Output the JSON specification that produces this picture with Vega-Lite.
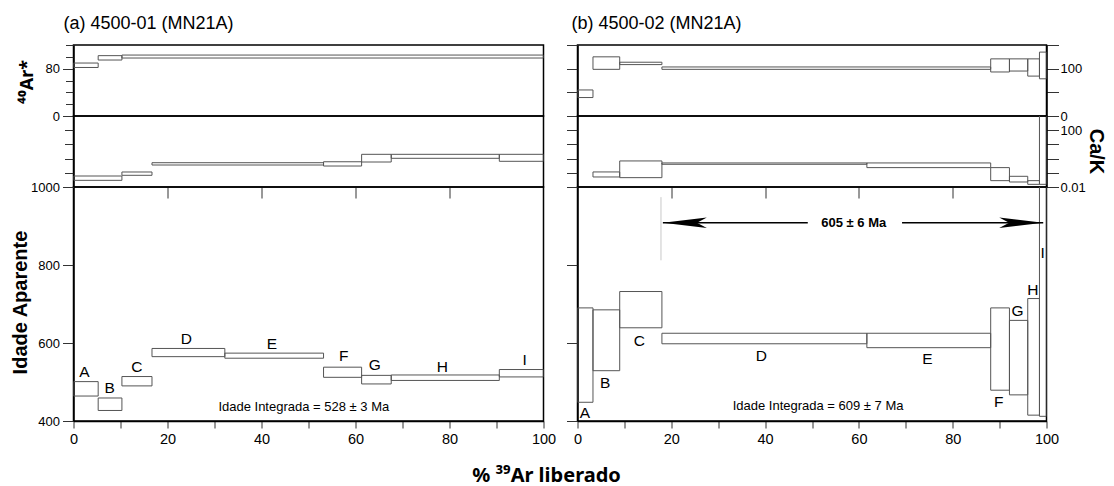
{
  "$schema": "https://vega.github.io/schema/vega-lite/v6.json",
  "background": "white",
  "padding": {"left": 8.5, "top": 14, "right": 0, "bottom": 0},
  "datasets": {
    "a_ar": [
      {"step": "A", "x1": 0, "x2": 5.25, "lo": 82, "hi": 89.5},
      {"step": "B", "x1": 5.25, "x2": 10.3, "lo": 94.6, "hi": 102},
      {"step": "C-I", "x1": 10.3, "x2": 100, "lo": 98, "hi": 103}
    ],
    "a_ck": [
      {"step": "A-B", "x1": 0, "x2": 10.3, "lo": 0.0295, "hi": 0.0595},
      {"step": "C", "x1": 10.3, "x2": 16.7, "lo": 0.0667, "hi": 0.114},
      {"step": "D-E", "x1": 16.7, "x2": 53.2, "lo": 0.354, "hi": 0.514},
      {"step": "F", "x1": 53.2, "x2": 61.3, "lo": 0.30, "hi": 0.60},
      {"step": "G", "x1": 61.3, "x2": 67.6, "lo": 0.576, "hi": 2.0},
      {"step": "H", "x1": 67.6, "x2": 90.6, "lo": 1.05, "hi": 2.0},
      {"step": "I", "x1": 90.6, "x2": 100, "lo": 0.645, "hi": 2.0}
    ],
    "a_age": [
      {"step": "A", "x1": 0, "x2": 5.25, "lo": 464, "hi": 501, "lx": 2.3, "ly": 525},
      {"step": "B", "x1": 5.25, "x2": 10.3, "lo": 427, "hi": 459, "lx": 7.7, "ly": 484},
      {"step": "C", "x1": 10.3, "x2": 16.7, "lo": 490, "hi": 514, "lx": 13.5, "ly": 539},
      {"step": "D", "x1": 16.7, "x2": 32.2, "lo": 565, "hi": 586, "lx": 24, "ly": 611},
      {"step": "E", "x1": 32.2, "x2": 53.2, "lo": 561, "hi": 574, "lx": 42.2, "ly": 598},
      {"step": "F", "x1": 53.2, "x2": 61.3, "lo": 512, "hi": 538, "lx": 57.5, "ly": 567},
      {"step": "G", "x1": 61.3, "x2": 67.6, "lo": 495, "hi": 517, "lx": 64.1, "ly": 543},
      {"step": "H", "x1": 67.6, "x2": 90.6, "lo": 504, "hi": 518, "lx": 78.5, "ly": 539},
      {"step": "I", "x1": 90.6, "x2": 100, "lo": 513, "hi": 532, "lx": 96, "ly": 556}
    ],
    "a_int": [{"x": 49, "age": 437, "text": "Idade Integrada = 528 ± 3 Ma"}],
    "b_ar": [
      {"step": "A", "x1": 0, "x2": 3.3, "lo": 39, "hi": 55},
      {"step": "B", "x1": 3.3, "x2": 9.0, "lo": 98.6, "hi": 125},
      {"step": "C", "x1": 9.0, "x2": 18.0, "lo": 108.6, "hi": 113.6},
      {"step": "D-E", "x1": 18.0, "x2": 88.1, "lo": 98.6, "hi": 103.6},
      {"step": "F", "x1": 88.1, "x2": 92.1, "lo": 93, "hi": 120.7},
      {"step": "G", "x1": 92.1, "x2": 96.0, "lo": 95, "hi": 120.7},
      {"step": "H", "x1": 96.0, "x2": 98.5, "lo": 84.3, "hi": 120.7},
      {"step": "I", "x1": 98.5, "x2": 100, "lo": 78.6, "hi": 135}
    ],
    "b_ck": [
      {"step": "A", "x1": 0, "x2": 3.3, "lo": 0.001, "hi": 0.008},
      {"step": "B", "x1": 3.3, "x2": 9.0, "lo": 0.0508, "hi": 0.115},
      {"step": "C", "x1": 9.0, "x2": 18.0, "lo": 0.0456, "hi": 0.684},
      {"step": "D", "x1": 18.0, "x2": 61.7, "lo": 0.398, "hi": 0.494},
      {"step": "E", "x1": 61.7, "x2": 88.1, "lo": 0.232, "hi": 0.494},
      {"step": "F", "x1": 88.1, "x2": 92.1, "lo": 0.028, "hi": 0.232},
      {"step": "G", "x1": 92.1, "x2": 96.0, "lo": 0.0225, "hi": 0.0566},
      {"step": "H", "x1": 96.0, "x2": 98.5, "lo": 0.0154, "hi": 0.028},
      {"step": "I", "x1": 98.5, "x2": 100, "lo": 0.0154, "hi": 5000}
    ],
    "b_age": [
      {"step": "A", "x1": 0, "x2": 3.3, "lo": 448, "hi": 690, "lx": 1.6, "ly": 420},
      {"step": "B", "x1": 3.3, "x2": 9.0, "lo": 529, "hi": 685, "lx": 5.9, "ly": 498},
      {"step": "C", "x1": 9.0, "x2": 18.0, "lo": 639, "hi": 732, "lx": 13.2, "ly": 606},
      {"step": "D", "x1": 18.0, "x2": 61.7, "lo": 598, "hi": 625, "lx": 39.2, "ly": 567},
      {"step": "E", "x1": 61.7, "x2": 88.1, "lo": 588, "hi": 625, "lx": 74.6, "ly": 558},
      {"step": "F", "x1": 88.1, "x2": 92.1, "lo": 479, "hi": 690, "lx": 89.8, "ly": 450},
      {"step": "G", "x1": 92.1, "x2": 96.0, "lo": 467, "hi": 658, "lx": 93.8, "ly": 682},
      {"step": "H", "x1": 96.0, "x2": 98.5, "lo": 415, "hi": 714, "lx": 97.1, "ly": 736},
      {"step": "I", "x1": 98.5, "x2": 100, "lo": 412, "hi": 1300, "lx": 99.2, "ly": 831}
    ],
    "b_int": [{"x": 51.3, "age": 438, "text": "Idade Integrada = 609 ± 7 Ma"}],
    "b_plat_lines": [
      {"x1": 18.2, "x2": 49.1, "age": 908.5},
      {"x1": 69.2, "x2": 99.3, "age": 908.5}
    ],
    "b_plat_heads": [
      {"x": 18.2, "age": 908.5, "dir": "left"},
      {"x": 99.3, "age": 908.5, "dir": "right"}
    ],
    "b_plat_text": [{"x": 58.9, "age": 908.5, "text": "605 ± 6 Ma"}],
    "b_plat_start": [{"x": 17.8, "lo": 812, "hi": 974}]
  },
  "concat": [
    {
      "width": 470, "height": 71,
      "title": {"text": "(a) 4500-01 (MN21A)", "anchor": "start", "frame": "group", "dx": -10, "offset": -8, "baseline": "alphabetic", "font": "Liberation Sans", "fontSize": 18, "fontWeight": "normal", "color": "#000"},
      "data": {"name": "a_ar"},
      "mark": {"type": "rect", "fill": "transparent", "stroke": "#555", "strokeWidth": 1, "clip": true},
      "encoding": {
        "x": {"field": "x1", "type": "quantitative", "scale": {"domain": [0, 100], "nice": false}, "axis": null},
        "x2": {"field": "x2"},
        "y": {"field": "lo", "type": "quantitative", "scale": {"domain": [0, 120], "nice": false, "zero": false},
          "axis": {"orient": "left", "values": [0, 20, 40, 60, 80, 100, 120],
            "labelExpr": "datum.value == 0 || datum.value == 80 ? datum.label : ''",
            "tickSize": {"condition": {"test": "datum.value == 0 || datum.value == 80", "value": 11}, "value": 8},
            "labelPadding": 3,
            "title": "⁴⁰Ar*", "titleFont": "Noto Sans", "titleX": -41, "titleY": 36.5, "titleAngle": -90, "titleAlign": "center", "titleBaseline": "alphabetic", "titleFontSize": 18}},
        "y2": {"field": "hi"}
      }
    },
    {
      "width": 469, "height": 71,
      "title": {"text": "(b) 4500-02 (MN21A)", "anchor": "start", "frame": "group", "dx": -6, "offset": -8, "baseline": "alphabetic", "font": "Liberation Sans", "fontSize": 18, "fontWeight": "normal", "color": "#000"},
      "data": {"name": "b_ar"},
      "layer": [
        {
          "mark": {"type": "rect", "fill": "transparent", "stroke": "#555", "strokeWidth": 1, "clip": true},
          "encoding": {
            "x": {"field": "x1", "type": "quantitative", "scale": {"domain": [0, 100], "nice": false}, "axis": null},
            "x2": {"field": "x2"},
            "y": {"field": "lo", "type": "quantitative", "scale": {"domain": [0, 150], "nice": false, "zero": false},
              "axis": {"orient": "left", "values": [0, 50, 100, 150], "labels": false, "tickSize": 11, "title": null}},
            "y2": {"field": "hi"}
          }
        },
        {
          "mark": {"type": "rect", "fill": "transparent", "stroke": "transparent", "clip": true},
          "encoding": {
            "x": {"field": "x1", "type": "quantitative", "axis": null},
            "x2": {"field": "x2"},
            "y": {"field": "lo", "type": "quantitative",
              "axis": {"orient": "right", "values": [0, 50, 100, 150], "labelExpr": "datum.value == 0 || datum.value == 100 ? datum.label : ''",
                "tickSize": 12, "labelPadding": 1.5, "title": null}},
            "y2": {"field": "hi"}
          }
        }
      ]
    },
    {
      "width": 470, "height": 71,
      "data": {"name": "a_ck"},
      "mark": {"type": "rect", "fill": "transparent", "stroke": "#555", "strokeWidth": 1, "clip": true},
      "encoding": {
        "x": {"field": "x1", "type": "quantitative", "scale": {"domain": [0, 100], "nice": false},
          "axis": {"orient": "bottom", "values": [20, 40, 60, 80], "labels": false, "domain": false, "tickSize": 11, "title": null}},
        "x2": {"field": "x2"},
        "y": {"field": "lo", "type": "quantitative", "scale": {"type": "log", "domain": [0.01, 1000], "nice": false},
          "axis": {"orient": "left", "values": [0.01, 0.1, 1, 10, 100], "labels": false, "tickSize": 9, "title": null}},
        "y2": {"field": "hi"}
      }
    },
    {
      "width": 469, "height": 71,
      "data": {"name": "b_ck"},
      "layer": [
        {
          "mark": {"type": "rect", "fill": "transparent", "stroke": "#555", "strokeWidth": 1, "clip": true},
          "encoding": {
            "x": {"field": "x1", "type": "quantitative", "scale": {"domain": [0, 100], "nice": false},
              "axis": {"orient": "bottom", "values": [20, 40, 60, 80], "labels": false, "domain": false, "tickSize": 11, "title": null}},
            "x2": {"field": "x2"},
            "y": {"field": "lo", "type": "quantitative", "scale": {"type": "log", "domain": [0.01, 1000], "nice": false},
              "axis": {"orient": "left", "values": [0.01, 0.1, 1, 10, 100], "labels": false, "tickSize": 11, "title": null}},
            "y2": {"field": "hi"}
          }
        },
        {
          "mark": {"type": "rect", "fill": "transparent", "stroke": "transparent", "clip": true},
          "encoding": {
            "x": {"field": "x1", "type": "quantitative"},
            "x2": {"field": "x2"},
            "y": {"field": "lo", "type": "quantitative",
              "axis": {"orient": "right", "values": [0.01, 0.1, 1, 10, 100],
                "labelExpr": "datum.value > 99 ? '100' : (datum.value < 0.011 ? '0.01' : '')",
                "tickSize": 12, "labelPadding": 1.5,
                "title": "Ca/K", "titleX": 42.5, "titleY": 35, "titleAngle": 90, "titleAlign": "center", "titleBaseline": "alphabetic"}},
            "y2": {"field": "hi"}
          }
        }
      ]
    },
    {
      "width": 470, "height": 234,
      "layer": [
        {
          "data": {"name": "a_age"},
          "mark": {"type": "rect", "fill": "transparent", "stroke": "#555", "strokeWidth": 1, "clip": true},
          "encoding": {
            "x": {"field": "x1", "type": "quantitative", "scale": {"domain": [0, 100], "nice": false},
              "axis": {"orient": "bottom", "values": [0, 5, 10, 15, 20, 25, 30, 35, 40, 45, 50, 55, 60, 65, 70, 75, 80, 85, 90, 95, 100],
                "labelExpr": "datum.value % 20 == 0 ? datum.label : ''", "labelFontSize": 14.5, "tickSize": 7, "labelPadding": 4,
                "title": "% ³⁹Ar liberado", "titleFont": "Noto Sans", "titleX": 472.5, "titleY": 60, "titleAlign": "center", "titleBaseline": "alphabetic"}},
            "x2": {"field": "x2"},
            "y": {"field": "lo", "type": "quantitative", "scale": {"domain": [400, 1000], "nice": false, "zero": false},
              "axis": {"orient": "left", "values": [400, 450, 500, 550, 600, 650, 700, 750, 800, 850, 900, 950, 1000],
                "format": "d",
                "labelExpr": "datum.value % 200 == 0 ? datum.label : ''",
                "tickSize": {"condition": {"test": "datum.value % 200 == 0", "value": 11}, "value": 7},
                "labelPadding": 3,
                "title": "Idade Aparente", "titleX": -47.5, "titleY": 115, "titleAngle": -90, "titleAlign": "center", "titleBaseline": "alphabetic"}},
            "y2": {"field": "hi"}
          }
        },
        {
          "data": {"name": "a_age"},
          "mark": {"type": "text", "align": "center", "baseline": "middle", "fontSize": 15.5},
          "encoding": {
            "x": {"field": "lx", "type": "quantitative"},
            "y": {"field": "ly", "type": "quantitative"},
            "text": {"field": "step"}
          }
        },
        {
          "data": {"name": "a_int"},
          "mark": {"type": "text", "align": "center", "baseline": "middle", "fontSize": 13},
          "encoding": {
            "x": {"field": "x", "type": "quantitative"},
            "y": {"field": "age", "type": "quantitative"},
            "text": {"field": "text"}
          }
        }
      ]
    },
    {
      "width": 469, "height": 234,
      "layer": [
        {
          "data": {"name": "b_age"},
          "mark": {"type": "rect", "fill": "transparent", "stroke": "#555", "strokeWidth": 1, "clip": true},
          "encoding": {
            "x": {"field": "x1", "type": "quantitative", "scale": {"domain": [0, 100], "nice": false},
              "axis": {"orient": "bottom", "values": [0, 5, 10, 15, 20, 25, 30, 35, 40, 45, 50, 55, 60, 65, 70, 75, 80, 85, 90, 95, 100],
                "labelExpr": "datum.value % 20 == 0 ? datum.label : ''", "labelFontSize": 14.5, "tickSize": 7, "labelPadding": 4, "title": null}},
            "x2": {"field": "x2"},
            "y": {"field": "lo", "type": "quantitative", "scale": {"domain": [400, 1000], "nice": false, "zero": false},
              "axis": {"orient": "left", "values": [400, 450, 500, 550, 600, 650, 700, 750, 800, 850, 900, 950, 1000],
                "labels": false, "tickSize": 11, "title": null}},
            "y2": {"field": "hi"}
          }
        },
        {
          "data": {"name": "b_age"},
          "mark": {"type": "text", "align": "center", "baseline": "middle", "fontSize": 15.5},
          "encoding": {
            "x": {"field": "lx", "type": "quantitative"},
            "y": {"field": "ly", "type": "quantitative"},
            "text": {"field": "step"}
          }
        },
        {
          "data": {"name": "b_int"},
          "mark": {"type": "text", "align": "center", "baseline": "middle", "fontSize": 13},
          "encoding": {
            "x": {"field": "x", "type": "quantitative"},
            "y": {"field": "age", "type": "quantitative"},
            "text": {"field": "text"}
          }
        },
        {
          "data": {"name": "b_plat_start"},
          "mark": {"type": "rule", "color": "#c8c8c8", "strokeWidth": 1},
          "encoding": {
            "x": {"field": "x", "type": "quantitative"},
            "y": {"field": "lo", "type": "quantitative"},
            "y2": {"field": "hi"}
          }
        },
        {
          "data": {"name": "b_plat_lines"},
          "mark": {"type": "rule", "color": "#000", "strokeWidth": 1.5},
          "encoding": {
            "x": {"field": "x1", "type": "quantitative"},
            "x2": {"field": "x2"},
            "y": {"field": "age", "type": "quantitative"}
          }
        },
        {
          "data": {"name": "b_plat_heads"},
          "mark": {"type": "point", "filled": true, "color": "#000", "opacity": 1, "size": 1936, "strokeWidth": 0},
          "encoding": {
            "x": {"field": "x", "type": "quantitative"},
            "y": {"field": "age", "type": "quantitative"},
            "shape": {"field": "dir", "type": "nominal", "legend": null,
              "scale": {"domain": ["left", "right"], "range": ["M0,0L2,-0.24L1.55,0L2,0.24Z", "M0,0L-2,-0.24L-1.55,0L-2,0.24Z"]}}
          }
        },
        {
          "data": {"name": "b_plat_text"},
          "mark": {"type": "text", "align": "center", "baseline": "middle", "fontWeight": "bold", "fontSize": 13},
          "encoding": {
            "x": {"field": "x", "type": "quantitative"},
            "y": {"field": "age", "type": "quantitative"},
            "text": {"field": "text"}
          }
        }
      ]
    }
  ],
  "columns": 2,
  "spacing": {"row": 0, "column": 34},
  "bounds": "flush",
  "align": "each",
  "config": {
    "view": {"stroke": "#000", "strokeWidth": 1.5},
    "axis": {
      "grid": false,
      "domainColor": "#000", "domainWidth": 1.5,
      "tickColor": "#333", "tickWidth": 1,
      "labelFont": "Liberation Sans", "labelFontSize": 13, "labelColor": "#000",
      "labelOverlap": false, "labelFlush": false,
      "titleFont": "Liberation Sans", "titleFontWeight": "bold", "titleFontSize": 20, "titleColor": "#000"
    },
    "text": {"font": "Liberation Sans", "fontSize": 15, "color": "#000"}
  }
}
